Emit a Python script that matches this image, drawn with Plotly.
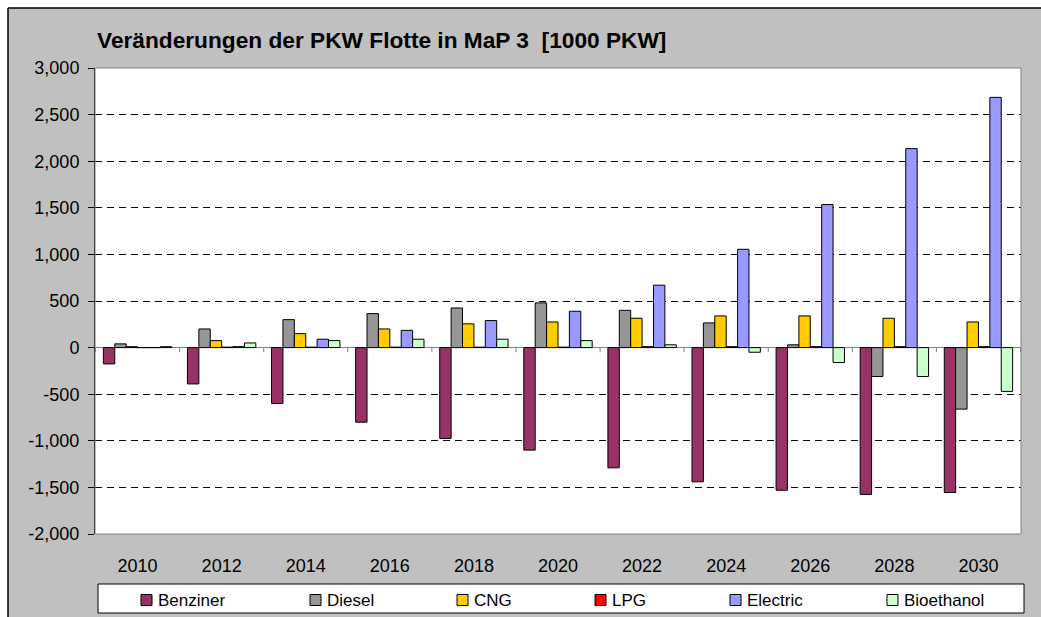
import plotly.graph_objects as go

# Jahre (Kategorien der x-Achse)
years = ["2010", "2012", "2014", "2016", "2018", "2020",
         "2022", "2024", "2026", "2028", "2030"]

# Veränderungen der Flotte je Antriebsart [1000 PKW]
benziner = [-175, -390, -600, -800, -975, -1100, -1290, -1440, -1530, -1575, -1555]
diesel = [40, 200, 300, 365, 425, 480, 400, 265, 30, -310, -660]
cng = [10, 75, 150, 200, 255, 275, 315, 340, 340, 315, 275]
lpg = [0, 5, 5, 5, 5, 5, 10, 10, 10, 10, 10]
electric = [0, 10, 90, 185, 290, 390, 670, 1055, 1535, 2135, 2685]
bioethanol = [10, 50, 75, 90, 90, 75, 30, -50, -160, -310, -470]

series_names = ["Benziner", "Diesel", "CNG", "LPG", "Electric", "Bioethanol"]
series_values = [benziner, diesel, cng, lpg, electric, bioethanol]
series_colors = ["#993366", "#969696", "#FFCC00", "#FF0000", "#9999FF", "#CCFFCC"]

y_ticks = list(range(-2000, 3001, 500))
y_ticktext = [f"{v:,}" for v in y_ticks]
y_range = [-2000, 3000]

FONT = "Liberation Sans, Arial, sans-serif"
W, H = 1041, 617
ML, MR, MT, MB = 95, 20, 68, 83

# left edge (px) of each legend swatch in the legend strip
LEGEND_SWATCH_X = [141, 310, 457, 595, 730, 887]
LEGEND_Y = 600

fig = go.Figure()
for name, vals, color in zip(series_names, series_values, series_colors):
    fig.add_trace(go.Bar(
        x=years, y=vals, name=name, showlegend=False,
        marker=dict(color=color, line=dict(color="#000000", width=1)),
    ))

# plot-area size in px, for converting edge pixels to paper units
pw = W - ML - MR
ph = H - MT - MB


def px_x(px):
    return (px - ML) / pw


def px_y(py):
    return (H - MB - py) / ph


shapes = []
annotations = []
# white surround outside the grey chart frame (left and top strips)
shapes.append(dict(type="rect", xref="paper", yref="paper",
                   x0=px_x(0), x1=px_x(8), y0=px_y(H), y1=px_y(0),
                   fillcolor="white", line=dict(width=0), layer="below"))
shapes.append(dict(type="rect", xref="paper", yref="paper",
                   x0=px_x(0), x1=px_x(W), y0=px_y(8), y1=px_y(0),
                   fillcolor="white", line=dict(width=0), layer="below"))
# frame lines of the chart area
shapes.append(dict(type="line", xref="paper", yref="paper",
                   x0=px_x(8), x1=px_x(W), y0=px_y(8), y1=px_y(8),
                   line=dict(color="#000000", width=1.5)))
shapes.append(dict(type="line", xref="paper", yref="paper",
                   x0=px_x(8), x1=px_x(8), y0=px_y(8), y1=px_y(H),
                   line=dict(color="#000000", width=1.5)))
# grey border of the plot area
shapes.append(dict(type="rect", xref="paper", yref="paper",
                   x0=0, x1=1, y0=0, y1=1,
                   line=dict(color="#808080", width=1)))
# tick marks on the zero line between categories
for i in range(len(years) + 1):
    shapes.append(dict(type="line", xref="x", yref="y",
                       x0=i - 0.5, x1=i - 0.5, y0=0, y1=-50,
                       line=dict(color="#808080", width=1)))

# legend: white box with one swatch + label per series
shapes.append(dict(type="rect", xref="paper", yref="paper",
                   x0=px_x(98), x1=px_x(1024), y0=px_y(613), y1=px_y(584),
                   fillcolor="white", line=dict(color="#000000", width=1),
                   layer="below"))
for name, color, sx in zip(series_names, series_colors, LEGEND_SWATCH_X):
    shapes.append(dict(type="rect", xref="paper", yref="paper",
                       x0=px_x(sx), x1=px_x(sx + 11),
                       y0=px_y(LEGEND_Y + 5.5), y1=px_y(LEGEND_Y - 5.5),
                       fillcolor=color, line=dict(color="#000000", width=1)))
    annotations.append(dict(xref="paper", yref="paper",
                            x=px_x(sx + 15), y=px_y(LEGEND_Y),
                            xanchor="left", yanchor="middle",
                            text=name, showarrow=False,
                            font=dict(family=FONT, size=17, color="#000000")))

fig.update_layout(
    width=W, height=H,
    margin=dict(l=ML, r=MR, t=MT, b=MB, pad=0),
    paper_bgcolor="#C0C0C0",
    plot_bgcolor="#FFFFFF",
    barmode="group",
    bargap=0.187,
    bargroupgap=0,
    showlegend=False,
    font=dict(family=FONT, color="#000000", size=18),
    title=dict(
        text="<b>Veränderungen der PKW Flotte in MaP 3  [1000 PKW]</b>",
        x=97 / W, xanchor="left",
        y=1 - 40 / H, yanchor="middle",
        font=dict(family=FONT, size=22.7, color="#000000"),
    ),
    xaxis=dict(
        type="category",
        showgrid=False,
        ticks="",
        ticklabelstandoff=19,
        tickfont=dict(size=18),
        showline=False,
        zeroline=False,
    ),
    yaxis=dict(
        range=y_range,
        tickvals=y_ticks,
        ticktext=y_ticktext,
        showgrid=True,
        gridcolor="#000000",
        gridwidth=1,
        griddash="7px,5px",
        zeroline=True,
        zerolinecolor="#808080",
        zerolinewidth=1,
        showline=True,
        linecolor="#000000",
        linewidth=1,
        ticks="outside",
        ticklen=6,
        tickcolor="#000000",
        ticklabelstandoff=5,
        tickfont=dict(size=18),
    ),
    shapes=shapes,
    annotations=annotations,
)

fig.write_html("out.html")
